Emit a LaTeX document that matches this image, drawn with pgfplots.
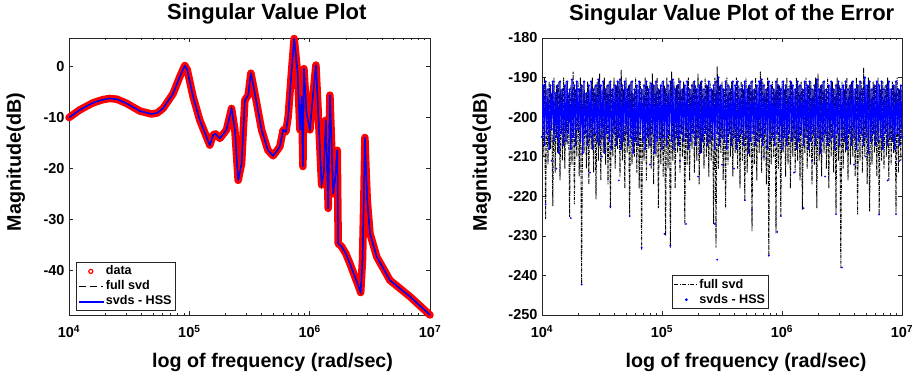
\documentclass[border=0pt]{standalone}
\usepackage{pgfplots}
\pgfplotsset{compat=1.18}
\usepackage{pgfplotstable}
\usepackage{fontspec}
\setmainfont{Liberation Sans}
\newcommand\tickfont{\bfseries\fontsize{14.5}{16}\selectfont}
\newcommand\titfont{\bfseries\fontsize{22}{24}\selectfont}
\newcommand\labfont{\bfseries\fontsize{19.7}{22}\selectfont}
\newcommand\legfont{\bfseries\fontsize{12.6}{14}\selectfont}

\pgfplotstableread{
f db
1e4 -10.1
1.1e4 -9.4
1.227e4 -8.6
1.585e4 -7.2
1.9e4 -6.6
2.183e4 -6.35
2.5e4 -6.5
3.0e4 -7.3
3.87e4 -8.8
4.84e4 -9.4
5.4e4 -9.2
6.05e4 -8.3
7.33e4 -5.4
8.33e4 -2.1
9.17e4 0.1
9.6e4 -0.7
1.074e5 -6
1.221e5 -10.6
1.479e5 -15.5
1.577e5 -13.5
1.65e5 -13.3
1.792e5 -14.2
2.037e5 -12.5
2.243e5 -8.3
2.389e5 -12.5
2.546e5 -22.4
2.718e5 -19.1
2.893e5 -6.7
3.084e5 -5.7
3.247e5 -1.4
3.506e5 -5.4
3.985e5 -12.5
4.5e5 -16.5
4.97e5 -17.6
5.65e5 -15.8
6.02e5 -12.5
6.34e5 -12.9
6.63e5 -9.9
7.08e5 -0.8
7.435e5 5.4
7.94e5 -1.4
8.30e5 -12.5
8.57e5 -6
8.79e5 -19.7
8.96e5 -0.5
9.43e5 -9.3
1.005e6 -12.5
1.038e6 -8.6
1.127e6 0.2
1.183e6 -10
1.257e6 -23.3
1.313e6 -20.6
1.364e6 -10.6
1.426e6 -27.9
1.473e6 -5.7
1.570e6 -25
1.622e6 -22.4
1.695e6 -16.5
1.727e6 -34.8
1.845e6 -35.4
2.0e6 -36.8
2.16e6 -38.7
2.35e6 -41
2.55e6 -43.2
2.654e6 -44.4
2.749e6 -38
2.825e6 -25
2.877e6 -14
2.937e6 -20
3.01e6 -26.3
3.17e6 -32.8
3.61e6 -37.4
4.65e6 -42
6.82e6 -45.2
1e7 -48.8
}\leftdata

\pgfplotstableread[row sep=\\]{
y\\
-192\\-210\\-190\\-225.7\\-193\\-212\\-191\\-208\\-194\\-222.5\\-190\\-214\\-192\\-209\\-191\\-216\\-193\\-211\\-190\\-213\\
-191\\-207\\-194\\-225.2\\-192\\-212\\-188.5\\-222\\-193\\-210\\-191\\-215\\-190\\-242.3\\-192\\-209\\-194\\-213\\-191\\-217\\
-193\\-208\\-190\\-214\\-192\\-220.8\\-191\\-211\\-189\\-216\\-193\\-209\\-190\\-212\\-192\\-217\\-191\\-223\\-193\\-210\\
-190\\-213\\-192\\-208\\-191\\-215\\-188\\-211\\-193\\-218\\-190\\-209\\-192\\-225.2\\-191\\-212\\-194\\-210\\-190\\-214\\
-192\\-218\\-191\\-233.5\\-193\\-211\\-190\\-216\\-192\\-208\\-191\\-213\\-189\\-217\\-192\\-210\\-190\\-223\\-193\\-212\\
-191\\-215\\-192\\-230\\-190\\-213\\-193\\-233\\-188.5\\-211\\-191\\-218\\-192\\-209\\-190\\-214\\-193\\-210\\-191\\-227.1\\
-192\\-212\\-190\\-216\\-193\\-208\\-191\\-214\\-192\\-211\\-189\\-217\\-191\\-209\\-193\\-213\\-190\\-210\\-192\\-215\\
-191\\-211\\-193\\-227\\-190\\-233\\-187.2\\-213\\-192\\-209\\-191\\-216\\-193\\-223\\-190\\-212\\-192\\-210\\-191\\-215\\
-193\\-209\\-190\\-213\\-192\\-218\\-191\\-211\\-193\\-221\\-190\\-214\\-192\\-210\\-191\\-228.8\\-193\\-212\\-190\\-216\\
-192\\-209\\-188.5\\-214\\-191\\-211\\-193\\-217\\-190\\-235.1\\-192\\-212\\-191\\-210\\-193\\-229.4\\-190\\-213\\-192\\-225\\
-191\\-209\\-193\\-215\\-190\\-212\\-192\\-218\\-191\\-210\\-193\\-214\\-190\\-211\\-192\\-216\\-191\\-223.4\\-193\\-209\\
-190\\-213\\-192\\-210\\-191\\-217\\-193\\-212\\-190\\-223\\-189\\-211\\-192\\-215\\-191\\-209\\-193\\-213\\-190\\-218\\
-192\\-210\\-191\\-214\\-193\\-224.2\\-190\\-211\\-192\\-238.1\\-191\\-213\\-193\\-209\\-190\\-216\\-192\\-212\\-191\\-210\\
-193\\-215\\-190\\-224.6\\-192\\-211\\-191\\-214\\-187.5\\-210\\-192\\-217\\-190\\-223.8\\-193\\-212\\-191\\-209\\-192\\-215\\
-190\\-224.6\\-193\\-211\\-191\\-213\\-192\\-210\\-190\\-216\\-193\\-212\\-191\\-209\\-192\\-224.2\\-190\\-214\\-193\\-211\\-192\\
}\blackdata

\pgfplotstableread[row sep=\\]{
y\\
-205\\-192\\-207\\-191\\-204\\-193\\-208\\-192\\-203\\-191\\-206\\-194\\-205\\-192\\-209\\-191\\-204\\-193\\-207\\-192\\
-206\\-191\\-204\\-193\\-208\\-190.5\\-205\\-192\\-207\\-191\\-203\\-193\\-206\\-192\\-209\\-191\\-204\\-194\\-207\\-192\\
-205\\-191\\-208\\-193\\-204\\-192\\-206\\-190.5\\-207\\-192\\-205\\-191\\-209\\-193\\-204\\-192\\-206\\-191\\-208\\-193\\
-204\\-192\\-207\\-191\\-205\\-190.5\\-208\\-192\\-206\\-191\\-204\\-193\\-207\\-192\\-205\\-191\\-209\\-193\\-206\\-192\\
-207\\-191\\-204\\-193\\-206\\-192\\-208\\-191\\-205\\-193\\-207\\-191.5\\-204\\-192\\-209\\-191\\-206\\-193\\-205\\-192\\
-208\\-191\\-205\\-193\\-207\\-192\\-204\\-191\\-206\\-190.5\\-208\\-193\\-205\\-192\\-207\\-191\\-204\\-193\\-206\\-192\\
-205\\-191\\-208\\-193\\-206\\-192\\-204\\-191\\-207\\-193\\-205\\-192\\-209\\-191\\-206\\-193\\-204\\-192\\-207\\-191\\
-206\\-193\\-205\\-192\\-208\\-191\\-204\\-190\\-207\\-192\\-205\\-193\\-206\\-191\\-208\\-192\\-204\\-193\\-207\\-191\\
-205\\-192\\-208\\-191\\-206\\-193\\-204\\-192\\-207\\-191\\-205\\-193\\-209\\-192\\-206\\-191\\-204\\-193\\-207\\-192\\
-206\\-191\\-205\\-190.5\\-207\\-192\\-204\\-193\\-208\\-191\\-206\\-192\\-205\\-193\\-207\\-191\\-204\\-192\\-206\\-193\\
-208\\-191\\-205\\-192\\-207\\-193\\-204\\-191\\-206\\-192\\-205\\-193\\-208\\-191\\-206\\-192\\-204\\-193\\-207\\-191\\
-205\\-192\\-208\\-191\\-206\\-193\\-204\\-192\\-207\\-190.5\\-205\\-193\\-209\\-192\\-206\\-191\\-204\\-193\\-207\\-192\\
-206\\-191\\-205\\-193\\-208\\-192\\-204\\-191\\-207\\-193\\-205\\-192\\-206\\-191\\-208\\-193\\-204\\-192\\-207\\-191\\
-205\\-193\\-208\\-192\\-206\\-191\\-204\\-193\\-207\\-190\\-205\\-192\\-209\\-191\\-206\\-193\\-204\\-192\\-207\\-191\\
-206\\-192\\-205\\-191\\-208\\-193\\-204\\-192\\-207\\-191\\-205\\-193\\-206\\-192\\-208\\-191\\-204\\-193\\-207\\-192\\-205\\
}\bluedata

\pgfplotsset{
  mystyle/.style={
    scale only axis, width=361pt, height=277pt,
    anchor=south west,
    axis line style={black!85, line width=0.7pt},
    tick style={black!85, line width=0.6pt},
    tick align=inside,
    major tick length=3.6pt, minor tick length=2pt,
    ticklabel style={font=\tickfont},
    xticklabel style={anchor=base, yshift=-23pt},
    yticklabel style={xshift=-1pt},
    title style={font=\titfont, anchor=base, yshift=12pt},
    xlabel style={font=\labfont, anchor=base},
    ylabel style={font=\labfont, anchor=center},
    legend style={font=\legfont, draw=black!85, line width=0.6pt, fill=white,
      inner xsep=2pt, inner ysep=1.5pt,
      nodes={inner sep=1.5pt, text height=9.5pt, text depth=2.5pt},
      row sep=0pt, column sep=1pt},
    legend cell align=left,
  }
}

\begin{document}
\begin{tikzpicture}
\useasboundingbox (0,0) rectangle (916pt,375pt);
\begin{axis}[mystyle, at={(69pt,60pt)},
  xmode=log, xmin=1e4, xmax=1e7, ymin=-48.8, ymax=5.5,
  xtick={1e4,1e5,1e6,1e7},
  xticklabels={10\textsuperscript{4},10\textsuperscript{5},10\textsuperscript{6},10\textsuperscript{7}},
  ytick={-40,-30,-20,-10,0}, yticklabels={-40,-30,-20,-10,0},
  clip=false,
  title={Singular Value Plot},
  title style={at={(axis description cs:0.548,1)}},
  xlabel={log of frequency (rad/sec)},
  xlabel style={at={(axis description cs:0.564,-0.188)}},
  ylabel={Magnitude(dB)},
  ylabel style={at={(axis description cs:-0.147,0.552)}},
  legend style={at={(axis description cs:0.0194,0.0155)}, anchor=south west},
]
\addplot[red, line width=7.5pt, line join=round, line cap=round, forget plot] table[x=f, y=db] {\leftdata};
\addplot[black, line width=1pt, dash pattern=on 7pt off 4pt, forget plot] table[x=f, y=db] {\leftdata};
\addplot[blue, line width=1.5pt, line join=round, forget plot] table[x=f, y=db] {\leftdata};
\addlegendimage{legend image code/.code={\draw[red, line width=1.2pt] (12pt,0pt) circle (2pt);}}
\addlegendentry{data}
\addlegendimage{legend image code/.code={\draw[black, line width=1pt, dash pattern=on 7pt off 4pt] (0pt,0pt) -- (24pt,0pt);}}
\addlegendentry{full svd}
\addlegendimage{legend image code/.code={\fill[blue] (0pt,-0.5pt) rectangle (24pt,0.5pt);}}
\addlegendentry{svds - HSS}
\end{axis}

\begin{axis}[mystyle, at={(542pt,60pt)}, width=360pt,
  xmin=0, xmax=300, ymin=-250, ymax=-180,
  xtick={0,100,200,300},
  xticklabels={10\textsuperscript{4},10\textsuperscript{5},10\textsuperscript{6},10\textsuperscript{7}},
  minor xtick={30.103,47.712,60.206,69.897,77.815,84.510,90.309,95.424,
    130.103,147.712,160.206,169.897,177.815,184.510,190.309,195.424,
    230.103,247.712,260.206,269.897,277.815,284.510,290.309,295.424},
  ytick={-250,-240,-230,-220,-210,-200,-190,-180},
  yticklabels={-250,-240,-230,-220,-210,-200,-190,-180},
  title={Singular Value Plot of the Error},
  title style={at={(axis description cs:0.527,1)}},
  xlabel={log of frequency (rad/sec)},
  xlabel style={at={(axis description cs:0.567,-0.188)}},
  ylabel={Magnitude(dB)},
  ylabel style={at={(axis description cs:-0.167,0.552)}},
  legend style={at={(axis description cs:0.360,0.0217)}, anchor=south west},
]
\addplot[black, line width=0.9pt, dash pattern=on 3pt off 1pt on 0.8pt off 1pt, forget plot] table[x expr=\coordindex, y index=0] {\blackdata};
\addplot[blue, line width=1.1pt, mark=*, mark size=0.5pt, forget plot] table[x expr=\coordindex, y index=0] {\bluedata};
\addplot[blue, only marks, mark=*, mark size=0.7pt, forget plot] coordinates {
(3,-222) (24,-225.5) (33,-242.3) (57,-222.5) (73,-225) (83,-233) (102,-229.5) (107,-232.5)
(120,-227) (144,-227) (146,-236) (169,-221) (175,-223.5) (189,-235) (196,-229) (199,-225)
(218,-223) (245,-224.5) (250,-238) (281,-224.6) (295,-224.5)
(12,-213) (40,-214) (64,-216) (90,-212) (130,-215) (160,-213) (210,-214) (236,-215) (260,-212) (288,-216)
(8,-211) (50,-210) (115,-211) (150,-212) (185,-210) (225,-211) (270,-210) (298,-211)};
\addlegendimage{legend image code/.code={\draw[black, line width=0.9pt, dash pattern=on 4pt off 1.5pt on 1pt off 1.5pt] (0pt,0pt) -- (22pt,0pt);}}
\addlegendentry{full svd}
\addlegendimage{legend image code/.code={\fill[blue] (12pt,0pt) circle (1.1pt);}}
\addlegendentry{svds - HSS}
\end{axis}
\end{tikzpicture}
\end{document}
